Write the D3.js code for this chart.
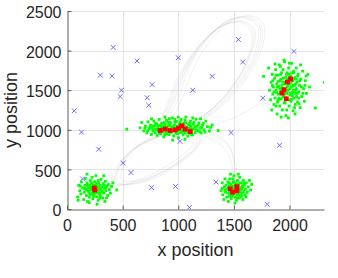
<!DOCTYPE html>
<html>
<head>
<meta charset="utf-8">
<script src="https://cdn.jsdelivr.net/npm/d3@7"></script>
<style>
  body { margin: 0; background: #fff; }
  svg { display: block; font-family: "Liberation Sans", Arial, Helvetica, sans-serif; }
</style>
</head>
<body>
<svg id="chart" width="338" height="278"></svg>
<script>
// tick values
const xTicks = [0, 500, 1000, 1500, 2000];
const yTicks = [0, 500, 1000, 1500, 2000, 2500];

// green samples around each cluster (x, y)
const greenA = [[95,150],[105,300],[115,230],[125,190],[130,340],[140,265],[150,120],[155,210],[160,300],[165,385],[170,245],[175,170],[180,330],[185,95],[190,270],[195,215],[200,150],[205,300],[210,360],[215,240],[220,190],[225,275],[228,320],[232,130],[236,225],[240,290],[244,180],[248,345],[252,260],[256,205],[260,420],[264,300],[268,155],[272,235],[276,280],[280,110],[284,330],[288,195],[292,250],[296,300],[300,165],[305,375],[310,225],[315,280],[320,140],[325,320],[330,200],[335,260],[340,95],[345,350],[350,230],[358,290],[365,170],[372,310],[380,245],[390,200],[400,285],[412,330],[447,240],[330,420],[270,60],[200,80],[120,290],[100,110],[355,140],[225,400],[180,440],[300,200],[265,225],[235,265],
  [190,230],[210,270],[230,200],[245,300],[255,235],[262,270],[278,210],[290,280],[302,245],[318,220],[205,185],[240,160],[280,360],[160,260],[335,300],[220,330],[265,320],[295,140],[180,300],[350,270]];

const greenB = [[537,1009],[657,1025],[672,1092],[690,985],[705,1045],[718,960],[728,1100],[738,1010],[750,1060],[758,940],[765,1020],[772,985],[780,1110],[786,1045],[792,965],[798,1005],[805,1075],[810,930],[816,1030],[822,990],[828,1130],[834,1055],[840,950],[846,1015],[852,1085],[858,975],[864,1040],[870,910],[876,1000],[882,1065],[888,960],[894,1120],[900,1025],[906,985],[912,1050],[918,940],[924,1005],[930,1090],[936,970],[942,1035],[948,1150],[954,995],[960,925],[966,1060],[972,1015],[978,960],[984,1105],[990,1040],[996,985],[1002,900],[1008,1070],[1014,1020],[1020,965],[1026,1130],[1032,1045],[1038,990],[1044,935],[1050,1080],[1056,1010],[1062,960],[1068,1160],[1074,1035],[1080,985],[1086,920],[1092,1065],[1098,1005],[1104,955],[1110,1110],[1116,1030],[1122,980],[1128,935],[1136,1070],[1144,1010],[1152,965],[1160,1135],[1168,1045],[1176,990],[1186,1085],[1196,1020],[1206,960],[1218,1060],[1232,1000],[1248,1110],[1262,1040],[1280,985],[1359,991],[1305,1060],[920,1140],[1000,1160],[1060,880],[880,1160],[760,1140],[1130,1150],[1200,1140],[950,870],[1010,1000],[960,1010],[1040,1010],[900,1000],[1100,1020],[850,1030],[990,1020],[1070,1000],
  [700,1020],[725,990],[745,1030],[770,1050],[795,1080],[812,1000],[830,960],[845,1060],[862,1005],[872,1090],[886,1030],[897,950],[908,1095],[922,1060],[933,1015],[946,985],[958,1045],[969,1095],[981,1000],[993,950],[1005,1040],[1017,1095],[1028,1010],[1041,970],[1053,1045],[1066,1090],[1077,1020],[1090,970],[1103,1080],[1113,1045],[1125,1010],[1140,1095],[1150,1040],[1165,1000],[1180,1060],[1192,975],[1210,1030],[1225,1080],[1240,970],[1290,1030],[780,1000],[820,1050],[1060,1120],[970,1130],[1120,940],[880,940]];

const greenC = [[1385,230],[1395,330],[1400,180],[1410,120],[1415,280],[1420,380],[1425,210],[1430,300],[1435,150],[1440,250],[1445,340],[1450,95],[1452,200],[1456,290],[1460,160],[1464,380],[1468,240],[1472,310],[1476,130],[1480,210],[1484,270],[1488,180],[1492,340],[1496,230],[1500,420],[1504,290],[1508,150],[1512,250],[1516,200],[1520,320],[1524,110],[1528,260],[1532,360],[1536,190],[1540,300],[1544,230],[1548,140],[1552,400],[1556,270],[1560,200],[1564,330],[1568,160],[1572,250],[1576,290],[1580,120],[1585,360],[1590,220],[1595,300],[1600,180],[1605,250],[1612,330],[1620,210],[1630,280],[1640,360],[1650,240],[1660,310],[1510,75],[1470,440],[1540,440],[1395,260],[1610,150],[1490,380],[1530,180],[1470,270],[1550,230],
  [1450,260],[1465,200],[1478,290],[1490,250],[1502,200],[1514,300],[1522,230],[1534,270],[1546,320],[1558,240],[1570,200],[1582,280],[1500,340],[1460,330],[1530,140],[1420,240],[1590,330],[1480,160],[1545,180],[1505,240]];

const greenD = [[1767,1675],[1812,1780],[1820,1500],[1830,1380],[1835,1600],[1840,1250],[1845,1700],[1850,1450],[1855,1540],[1860,1320],[1865,1650],[1870,1400],[1875,1760],[1880,1500],[1885,1580],[1888,1200],[1892,1350],[1896,1690],[1900,1450],[1904,1550],[1908,1820],[1912,1300],[1916,1620],[1920,1480],[1924,1390],[1928,1720],[1932,1560],[1936,1250],[1940,1420],[1944,1650],[1948,1520],[1952,1340],[1956,1860],[1960,1600],[1964,1460],[1968,1180],[1972,1700],[1976,1540],[1980,1380],[1984,1640],[1988,1500],[1992,1780],[1996,1300],[2000,1580],[2004,1440],[2008,1680],[2012,1360],[2016,1540],[2020,1840],[2024,1470],[2028,1620],[2032,1240],[2036,1740],[2040,1400],[2044,1560],[2048,1660],[2052,1320],[2056,1500],[2060,1780],[2064,1420],[2068,1600],[2072,1350],[2078,1700],[2084,1480],[2090,1560],[2096,1280],[2102,1640],[2110,1420],[2118,1740],[2126,1520],[2134,1360],[2142,1620],[2152,1460],[2165,1700],[2180,1540],[2232,1275],[2313,1600],[1950,1880],[1990,1150],[1870,1830],[2050,1200],[1925,1160],[2100,1820],[1980,1720],[1940,1600],[2010,1460],[1970,1500],[2030,1560],[1900,1380],[2060,1640],[1960,1340],[1920,1700],[2000,1660],[1885,1470],[2070,1460],[1950,1440],[2020,1380],[1990,1600],[1930,1520],[2040,1720],
  [1850,1620],[1862,1480],[1878,1690],[1890,1540],[1898,1610],[1906,1400],[1914,1520],[1922,1640],[1934,1460],[1942,1760],[1954,1580],[1962,1400],[1966,1660],[1978,1460],[1986,1560],[1994,1700],[2002,1520],[2006,1380],[2014,1600],[2022,1720],[2026,1430],[2034,1500],[2038,1640],[2046,1460],[2054,1580],[2062,1520],[2074,1680],[2082,1400],[2092,1620],[2106,1540],[2120,1460],[2138,1560],[1880,1300],[1918,1800],[1998,1840],[2086,1330],[1846,1560],[2150,1680],[1975,1250],[2045,1280]];

// red square estimates
const redPts = [[245,265],[250,240],
  [837,991],[882,1009],[927,991],[972,1000],[1002,1021],[1032,1051],[1062,1009],[1107,978],
  [1467,253],[1527,282],[1488,211],[1527,232],
  [2010,1642],[1980,1603],[1950,1506],[1932,1464],[1971,1392]];

// blue crosses
const bluePts = [[415,2040],[630,1870],[1000,1910],[300,1690],[405,1680],[490,1500],[478,1420],[765,1570],[720,1405],[735,1310],[65,1240],[1540,2140],[2040,1990],[1580,1855],[1305,1675],[1130,1500],[1760,1400],[130,970],[285,755],[505,580],[575,460],[140,380],[760,270],[975,285],[1015,855],[1100,20],[1475,965],[1910,805],[1340,340],[1800,60]];

// faint trajectories (rough loops)
const loopsUpper = [
  [[850,1000],[950,1350],[1080,1800],[1250,2150],[1450,2370],[1620,2400],[1720,2280],[1680,1950],[1540,1600],[1350,1300],[1150,1100],[950,1000]],
  [[900,1020],[1000,1400],[1120,1850],[1300,2200],[1480,2400],[1650,2420],[1750,2300],[1720,1980],[1580,1620],[1380,1300],[1180,1100],[1000,1020]],
  [[820,980],[920,1300],[1050,1750],[1220,2100],[1420,2330],[1590,2370],[1690,2250],[1640,1900],[1500,1560],[1320,1280],[1120,1080],[920,990]],
  [[950,1050],[1050,1450],[1180,1900],[1350,2230],[1520,2410],[1680,2430],[1770,2320],[1750,2020],[1620,1660],[1420,1330],[1220,1120],[1050,1040]],
  [[780,960],[880,1250],[1000,1680],[1180,2050],[1380,2300],[1560,2350],[1660,2220],[1610,1850],[1470,1520],[1290,1250],[1090,1070],[880,980]],
  [[870,1010],[970,1380],[1100,1830],[1270,2170],[1460,2390],[1630,2410],[1735,2290],[1700,1960],[1560,1610],[1365,1300],[1165,1100],[970,1010]],
  [[800,970],[900,1280],[1030,1720],[1200,2080],[1400,2320],[1575,2360],[1675,2240],[1625,1880],[1485,1540],[1305,1265],[1105,1075],[900,985]]
];
const loopsLower = [
  [[420,330],[470,560],[600,760],[800,900],[1000,980],[1150,950],[1150,800],[1000,600],[800,430],[600,330],[470,300]],
  [[450,360],[500,600],[640,800],[840,930],[1040,1000],[1180,960],[1170,780],[1010,570],[810,400],[620,320],[490,320]],
  [[390,300],[440,520],[570,720],[770,870],[970,960],[1120,930],[1130,820],[990,630],[790,460],[580,340],[440,290]],
  [[480,380],[540,640],[680,840],[880,960],[1060,1010],[1200,980],[1190,820],[1030,620],[830,450],[640,360],[510,350]],
  [[430,340],[490,580],[620,780],[820,915],[1020,990],[1165,955],[1160,790],[1005,585],[805,415],[610,325],[480,310]]
];
const pathsOpen = [
  [[250,250],[330,290],[420,330]],
  [[1100,1000],[1300,960],[1450,820],[1500,560],[1500,300]],
  [[1150,980],[1340,920],[1470,760],[1520,520],[1510,280]],
  [[1080,950],[1280,900],[1430,740],[1490,500],[1490,260]],
  [[1200,1000],[1500,1150],[1750,1350],[1950,1530]]
];

const W = 338, H = 278;
const margin = { left: 67, right: 14, top: 11, bottom: 69 };
const svg = d3.select('#chart');

const x = d3.scaleLinear().domain([0, 2310]).range([margin.left, W - margin.right]);
const y = d3.scaleLinear().domain([0, 2500]).range([H - margin.bottom, margin.top]);

// grid
const grid = svg.append('g').attr('stroke', '#e4e4e4').attr('stroke-width', 1);
grid.selectAll('line.gx').data(xTicks.slice(1)).enter().append('line')
  .attr('x1', d => Math.round(x(d)) + 0.5).attr('x2', d => Math.round(x(d)) + 0.5)
  .attr('y1', y(0)).attr('y2', y(2500));
grid.selectAll('line.gy').data(yTicks.slice(1)).enter().append('line')
  .attr('y1', d => Math.round(y(d)) + 0.5).attr('y2', d => Math.round(y(d)) + 0.5)
  .attr('x1', x(0)).attr('x2', x(2310));

// clip to the plot area
svg.append('clipPath').attr('id', 'clip').append('rect')
  .attr('x', x(0)).attr('y', y(2500)).attr('width', x(2310) - x(0)).attr('height', y(0) - y(2500));
const plot = svg.append('g').attr('clip-path', 'url(#clip)');

// trajectories
const lineClosed = d3.line().x(d => x(d[0])).y(d => y(d[1])).curve(d3.curveCatmullRomClosed);
const lineOpen = d3.line().x(d => x(d[0])).y(d => y(d[1])).curve(d3.curveCatmullRom);
plot.selectAll('path.loop').data(loopsUpper.concat(loopsLower)).enter().append('path')
  .attr('d', lineClosed).attr('fill', 'none').attr('stroke', '#8c8c8c')
  .attr('stroke-opacity', 0.16).attr('stroke-width', 0.8);
plot.selectAll('path.open').data(pathsOpen).enter().append('path')
  .attr('d', lineOpen).attr('fill', 'none').attr('stroke', '#8c8c8c')
  .attr('stroke-opacity', 0.16).attr('stroke-width', 0.8);

// green samples
const greens = greenA.concat(greenB, greenC, greenD);
plot.selectAll('rect.g').data(greens).enter().append('rect')
  .attr('x', d => x(d[0]) - 1.4).attr('y', d => y(d[1]) - 1.4)
  .attr('width', 2.8).attr('height', 2.8).attr('fill', '#00ff00');

// red squares
plot.selectAll('rect.r').data(redPts).enter().append('rect')
  .attr('x', d => x(d[0]) - 2.4).attr('y', d => y(d[1]) - 2.4)
  .attr('width', 4.8).attr('height', 4.8).attr('fill', '#ff0000');

// blue crosses
const s = 2.4;
const cross = plot.selectAll('g.b').data(bluePts).enter().append('g')
  .attr('transform', d => 'translate(' + x(d[0]) + ',' + y(d[1]) + ')')
  .attr('stroke', '#5c5cff').attr('stroke-width', 0.9);
cross.append('line').attr('x1', -s).attr('y1', -s).attr('x2', s).attr('y2', s);
cross.append('line').attr('x1', -s).attr('y1', s).attr('x2', s).attr('y2', -s);

// axes
const axisColor = '#5e5e5e';
const fmt = d3.format('d');
const xAxis = svg.append('g').attr('transform', 'translate(0,' + (Math.round(y(0)) + 0.5) + ')');
xAxis.call(d3.axisBottom(x).tickValues(xTicks).tickFormat(fmt).tickSizeInner(-4).tickSizeOuter(0).tickPadding(10));
const yAxis = svg.append('g').attr('transform', 'translate(' + (Math.round(x(0)) + 0.5) + ',0)');
yAxis.call(d3.axisLeft(y).tickValues(yTicks).tickFormat(fmt).tickSizeInner(-4).tickSizeOuter(0).tickPadding(6));
[xAxis, yAxis].forEach(a => {
  a.select('.domain').attr('stroke', axisColor);
  a.selectAll('.tick line').attr('stroke', axisColor);
  a.selectAll('.tick text').attr('fill', '#262626').style('font-size', '16px')
    .style('font-family', '"Liberation Sans", Arial, sans-serif');
});
yAxis.selectAll('.tick text').attr('dy', '0.42em');

// axis labels
svg.append('text').attr('x', (x(0) + x(2310)) / 2).attr('y', 256)
  .attr('text-anchor', 'middle').attr('fill', '#262626').style('font-size', '18px')
  .text('x position');
svg.append('text').attr('transform', 'translate(17,' + (y(0) + y(2500)) / 2 + ') rotate(-90)')
  .attr('text-anchor', 'middle').attr('fill', '#262626').style('font-size', '18px')
  .text('y position');
</script>
</body>
</html>
